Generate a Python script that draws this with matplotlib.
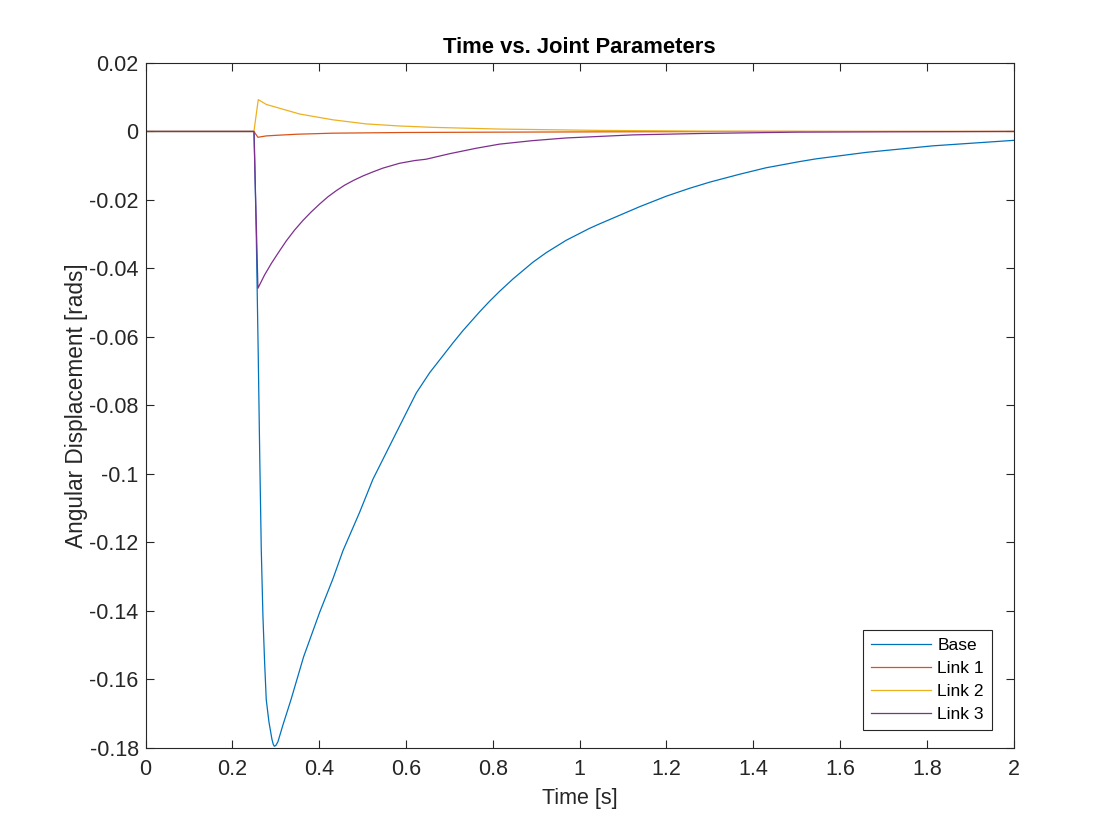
import matplotlib
matplotlib.use("Agg")
import matplotlib.pyplot as plt
from matplotlib.ticker import FuncFormatter

plt.rcParams['font.family'] = ['Liberation Sans', 'DejaVu Sans']
plt.rcParams['axes.unicode_minus'] = False

# values
t_base = [0.0, 0.250, 0.255, 0.2595, 0.263, 0.2665, 0.2703, 0.2742, 0.278, 0.2842,
          0.291, 0.2940, 0.2965, 0.3000, 0.3049, 0.3164, 0.335, 0.364, 0.401, 0.4316,
          0.4547, 0.493, 0.5238, 0.5507, 0.5776, 0.6006, 0.6237, 0.6544, 0.708, 0.7311,
          0.7696, 0.7926, 0.8157, 0.8464, 0.8924, 0.9232, 0.969, 1.023, 1.046, 1.138,
          1.2, 1.2535, 1.3, 1.3687, 1.43, 1.507, 1.545, 1.661, 1.814, 2.0]
base = [0.0, 0.0, -0.03, -0.065, -0.095, -0.122, -0.1414, -0.155, -0.166, -0.1725,
        -0.1775, -0.1790, -0.1796, -0.1794, -0.1783, -0.1734, -0.1660, -0.1535, -0.1405,
        -0.1307, -0.1225, -0.1113, -0.1016, -0.0948, -0.0880, -0.0822, -0.0764, -0.0705,
        -0.0618, -0.0582, -0.0527, -0.0496, -0.0467, -0.0431, -0.0382, -0.0354, -0.0318,
        -0.0283, -0.0270, -0.0220, -0.0189, -0.0166, -0.0148, -0.0125, -0.0106, -0.0088,
        -0.0080, -0.0061, -0.0042, -0.0026]

t_link1 = [0.0, 0.2496, 0.2588, 0.278, 0.3049, 0.35, 0.4316, 0.6, 0.816, 1.1, 1.4, 2.0]
link1 = [0.0, 0.0, -0.0017, -0.0013, -0.0011, -0.0008, -0.0005, -0.0003, -0.0002,
         -0.0001, 0.0, 0.0]

t_link2 = [0.0, 0.2496, 0.2596, 0.278, 0.3548, 0.4316, 0.5085, 0.585, 0.662, 0.8157,
           1.05, 1.3, 1.6, 2.0]
link2 = [0.0, 0.0, 0.0093, 0.0079, 0.0051, 0.0034, 0.0022, 0.0016, 0.0012, 0.0007,
         0.0003, 0.0001, 0.0, 0.0]

t_link3 = [0.0, 0.2496, 0.2588, 0.2742, 0.29, 0.3049, 0.3240, 0.3433, 0.3625, 0.3817,
           0.401, 0.420, 0.4393, 0.4585, 0.4790, 0.5007, 0.5240, 0.547, 0.585, 0.62,
           0.6467, 0.7005, 0.762, 0.8157, 0.89, 0.969, 1.123, 1.276, 1.5, 1.7, 2.0]
link3 = [0.0, 0.0, -0.0458, -0.0419, -0.0385, -0.0356, -0.0320, -0.0288, -0.0260,
         -0.0235, -0.0212, -0.0191, -0.0173, -0.0157, -0.0143, -0.0130, -0.0118,
         -0.0107, -0.0093, -0.0085, -0.0081, -0.0065, -0.0049, -0.0037, -0.0027,
         -0.0019, -0.0010, -0.0006, -0.0002, -0.0001, 0.0]

labels = ["Base", "Link 1", "Link 2", "Link 3"]
colors = ["#0072BD", "#D95319", "#EDB120", "#7E2F8E"]
dark = "#262626"

fig = plt.figure(figsize=(11.2, 8.4), dpi=100)
ax = fig.add_axes([0.13, 0.11, 0.775, 0.815])

series = [(t_base, base), (t_link1, link1), (t_link2, link2), (t_link3, link3)]
for (t, v), lab, c in zip(series, labels, colors):
    ax.plot(t, v, color=c, linewidth=0.9, label=lab)

ax.set_xlim(0, 2)
ax.set_ylim(-0.18, 0.02)
ax.set_xticks([i * 0.2 for i in range(11)])
ax.set_yticks([0.02 - i * 0.02 for i in range(11)])
ax.xaxis.set_major_formatter(FuncFormatter(lambda x, p: "%g" % round(x, 4)))
ax.yaxis.set_major_formatter(FuncFormatter(lambda y, p: "%g" % round(y, 4)))

ax.tick_params(direction="in", length=6, width=0.8, top=True, right=True,
               labelsize=15.5, colors=dark)
ax.tick_params(axis="x", pad=8)
ax.tick_params(axis="y", pad=5)
for s in ax.spines.values():
    s.set_color(dark)
    s.set_linewidth(0.8)

ax.set_xlabel("Time [s]", fontsize=15.5, color=dark, labelpad=6)
ax.set_ylabel("Angular Displacement [rads]", fontsize=16.3, color=dark, labelpad=1)
ax.set_title("Time vs. Joint Parameters", fontsize=15.8, fontweight="bold", color="black", pad=7)

leg = ax.legend(loc="lower right", bbox_to_anchor=(0.975, 0.026), borderaxespad=0,
                fontsize=12.5, fancybox=False, framealpha=1, handlelength=3.45,
                handletextpad=0.4, labelspacing=0.45, borderpad=0.45)
leg.get_frame().set_edgecolor(dark)
leg.get_frame().set_linewidth(0.8)

fig.savefig("out.png", dpi=100)
